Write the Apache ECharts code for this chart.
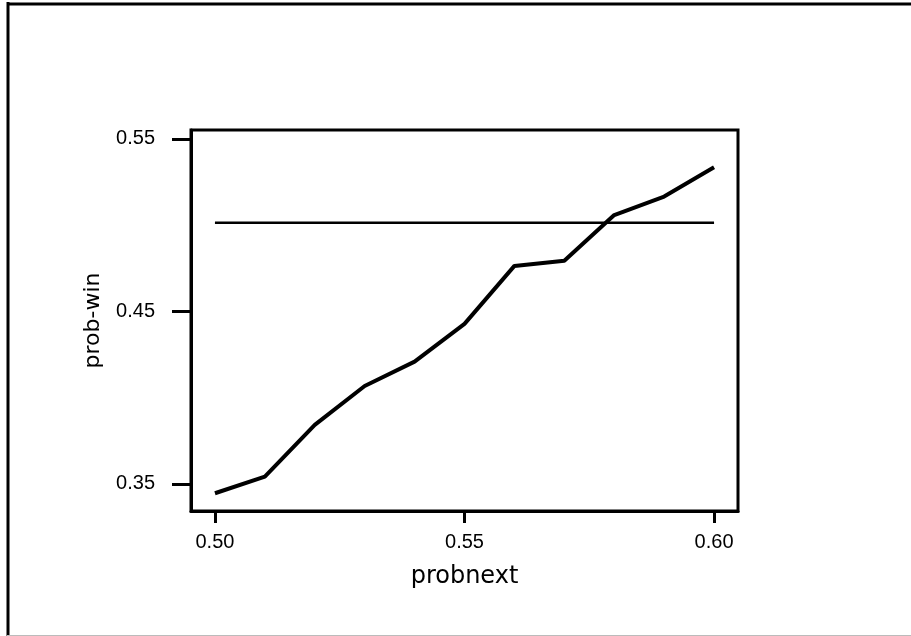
<!DOCTYPE html>
<html>
<head>
<meta charset="utf-8">
<script src="https://cdn.jsdelivr.net/npm/echarts@6/dist/echarts.min.js"></script>
<style>
  html, body { margin: 0; padding: 0; background: #fff; }
  #chart { width: 911px; height: 636px; }
</style>
</head>
<body>
<div id="chart"></div>
<script>
// values
const probnext = [0.50, 0.51, 0.52, 0.53, 0.54, 0.55, 0.56, 0.57, 0.58, 0.59, 0.60];
const probWin = [0.3446, 0.3542, 0.3842, 0.4068, 0.4209, 0.4428, 0.4764, 0.4794, 0.5059, 0.5166, 0.5336];
const refX = [0.50, 0.60];
const refY = [0.5014, 0.5014];
const xTicks = [0.50, 0.55, 0.60];
const yTicks = [0.35, 0.45, 0.55];

let chart = echarts.init(document.getElementById('chart'));

let option = {
    animation: false,
    backgroundColor: '#fff',
    grid: {
        left: 191, top: 130, right: 173, bottom: 125,
        show: true, borderColor: '#000', borderWidth: 3
    },
    xAxis: {
        type: 'value',
        min: 0.4952, max: 0.6048,
        name: 'probnext',
        nameLocation: 'middle',
        nameGap: 54,
        nameTextStyle: { fontFamily: 'DejaVu Sans', fontSize: 24, color: '#000' },
        splitLine: { show: false },
        axisLine: { lineStyle: { color: '#000', width: 3 } },
        axisTick: { customValues: xTicks, length: 12, lineStyle: { color: '#000', width: 3 } },
        axisLabel: {
            customValues: xTicks, margin: 21,
            fontFamily: 'Liberation Sans', fontSize: 20, color: '#000',
            formatter: v => v.toFixed(2)
        }
    },
    yAxis: {
        type: 'value',
        min: 0.3343, max: 0.5552,
        name: 'prob-win',
        nameLocation: 'middle',
        nameGap: 87,
        nameRotate: 90,
        nameTextStyle: { fontFamily: 'DejaVu Sans', fontSize: 22, color: '#000' },
        splitLine: { show: false },
        axisLine: { show: true, lineStyle: { color: '#000', width: 3 } },
        axisTick: { customValues: yTicks, length: 19, lineStyle: { color: '#000', width: 3 } },
        axisLabel: {
            customValues: yTicks, margin: 36,
            fontFamily: 'Liberation Sans', fontSize: 20, color: '#000',
            formatter: v => v.toFixed(2)
        }
    },
    graphic: [
        { type: 'line', shape: { x1: 8, y1: 2, x2: 8, y2: 636 }, style: { stroke: '#000', lineWidth: 3 } },
        { type: 'line', shape: { x1: 7, y1: 4, x2: 911, y2: 4 }, style: { stroke: '#000', lineWidth: 3 } },
        { type: 'line', shape: { x1: 7, y1: 635.5, x2: 911, y2: 635.5 }, style: { stroke: '#bbb', lineWidth: 1 } }
    ],
    series: [
        {
            type: 'line',
            data: probnext.map((x, i) => [x, probWin[i]]),
            showSymbol: false,
            lineStyle: { color: '#000', width: 4 }
        },
        {
            type: 'line',
            data: refX.map((x, i) => [x, refY[i]]),
            showSymbol: false,
            lineStyle: { color: '#000', width: 2.5 }
        }
    ]
};
chart.setOption(option);
</script>
</body>
</html>
